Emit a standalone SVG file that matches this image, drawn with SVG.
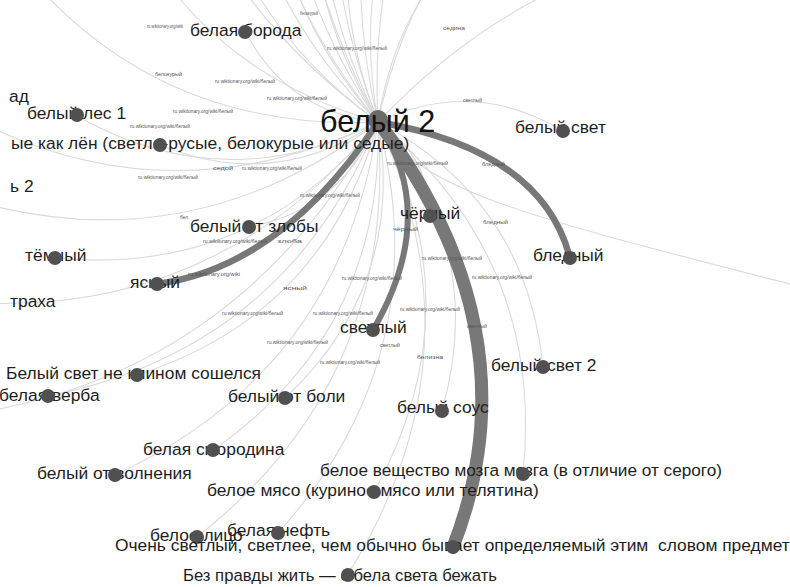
<svg xmlns="http://www.w3.org/2000/svg" width="790" height="587" viewBox="0 0 790 587">
  <style>
    .thin { fill: none; stroke: #dadada; stroke-width: 1.1; }
    .thick { fill: none; stroke: #787878; stroke-linecap: round; }
    .lbl { font-family: "Liberation Sans", Arial, sans-serif; font-size: 17.4px; fill: #1e1e1e; }
    .hublbl { font-family: "Liberation Sans", Arial, sans-serif; font-size: 30.5px; fill: #111; }
    .tiny { font-family: "Liberation Sans", Arial, sans-serif; font-size: 4.5px; fill: #555; }
    .dot { fill: #505050; }
  </style>
  <rect width="790" height="587" fill="#ffffff"/>

  <!-- connectors: curved edges from the centre word -->
  <g id="edges">
    <!-- edges to nodes outside the frame -->
    <path class="thin" d="M378,122 Q231,-45 290,-260"/>
    <path class="thin" d="M378,122 Q255,-84 360,-300"/>
    <path class="thin" d="M378,122 Q295,-93 430,-280"/>
    <path class="thin" d="M378,122 Q339,-97 500,-250"/>
    <path class="thin" d="M378,122 Q404,-48 560,-120"/>
    <path class="thin" d="M378,122 Q189,-16 200,-250"/>
    <path class="thin" d="M378,122 Q166,61 100,-150"/>
    <path class="thin" d="M378,122 Q140,133 0,-60"/>
    <path class="thin" d="M378,122 Q153,229 -60,100"/>
    <path class="thin" d="M378,122 Q177,274 -60,190"/>
    <path class="thin" d="M378,122 Q207,329 -60,300"/>
    <path class="thin" d="M378,122 Q427,-112 650,-200"/>
    <path class="thin" d="M378,122 Q200,-54 250,-300"/>
    <path class="thin" d="M378,122 Q229,395 -80,420"/>
    <path class="thin" d="M378,122 Q213,-126 330,-400"/>
    <path class="thin" d="M378,122 Q248,-145 400,-400"/>
    <path class="thin" d="M378,122 Q137,-52 150,-350"/>
    <path class="thin" d="M378,122 Q188,-113 280,-400"/>
    <path class="thin" d="M378,122 Q260,-183 450,-450"/>
    <path class="thin" d="M378,122 Q211,-190 380,-500"/>
    <path class="thin" d="M378,122 Q308,-177 520,-400"/>
    <path class="thin" d="M378,122 Q362,-174 600,-350"/>
    <path class="thin" d="M378,122 Q593,-105 900,-50"/>
    <path class="thin" d="M378,122 C420,190 520,215 790,284"/>
    <!-- edges to visible nodes -->
    <path class="thin" d="M378,122 Q287,112 245,31"/>
    <path class="thin" d="M378,122 Q226,200 77,116"/>
    <path class="thin" d="M378,122 Q275,192 160,145"/>
    <path class="thin" d="M378,122 Q342,209 249,227"/>
    <path class="thin" d="M378,122 Q253,277 55,258"/>
    <path class="thin" d="M378,122 Q326,314 137,375"/>
    <path class="thin" d="M378,122 Q287,348 48,396"/>
    <path class="thin" d="M378,122 Q406,285 285,398"/>
    <path class="thin" d="M378,122 Q384,331 213,450"/>
    <path class="thin" d="M378,122 Q342,370 115,475"/>
    <path class="thin" d="M378,122 Q476,308 374,492"/>
    <path class="thin" d="M378,122 Q545,259 523,474"/>
    <path class="thin" d="M378,122 Q439,354 278,533"/>
    <path class="thin" d="M378,122 Q399,378 197,537"/>
    <path class="thin" d="M378,122 Q485,356 348,574"/>
    <path class="thin" d="M378,122 Q488,249 442,411"/>
    <path class="thin" d="M378,122 Q526,200 543,367"/>
    <path class="thin" d="M378,122 Q429,155 430,216"/>
    <path class="thin" d="M378,122 Q473,77 563,131"/>
    <!-- heavy edges -->
    <path class="thick" stroke-width="6.5" d="M378,122 Q282,267 157,284"/>
    <path class="thick" stroke-width="6" d="M378,122 Q440,215 373,330"/>
    <path class="thick" stroke-width="6.5" d="M378,122 Q542,150 570,258"/>
    <path class="thick" stroke-width="13" d="M380,124 Q536,334 453,547"/>
  </g>

  <!-- small edge captions -->
  <g id="edge-captions">
    <text class="tiny" x="147" y="28" textLength="36" lengthAdjust="spacingAndGlyphs">ru.wiktionary.org/wiki</text>
    <text class="tiny" x="300" y="15" textLength="18" lengthAdjust="spacingAndGlyphs">белокурый</text>
    <text class="tiny" x="443" y="30" textLength="22" lengthAdjust="spacingAndGlyphs">седина</text>
    <text class="tiny" x="327" y="50" textLength="60" lengthAdjust="spacingAndGlyphs">ru.wiktionary.org/wiki/белый</text>
    <text class="tiny" x="155" y="76" textLength="27" lengthAdjust="spacingAndGlyphs">белокурый</text>
    <text class="tiny" x="215" y="83" textLength="60" lengthAdjust="spacingAndGlyphs">ru.wiktionary.org/wiki/белый</text>
    <text class="tiny" x="267" y="100" textLength="60" lengthAdjust="spacingAndGlyphs">ru.wiktionary.org/wiki/белый</text>
    <text class="tiny" x="173" y="113" textLength="60" lengthAdjust="spacingAndGlyphs">ru.wiktionary.org/wiki/белый</text>
    <text class="tiny" x="130" y="128" textLength="60" lengthAdjust="spacingAndGlyphs">ru.wiktionary.org/wiki/белый</text>
    <text class="tiny" x="213" y="170" textLength="20" lengthAdjust="spacingAndGlyphs">седой</text>
    <text class="tiny" x="242" y="170" textLength="60" lengthAdjust="spacingAndGlyphs">ru.wiktionary.org/wiki/белый</text>
    <text class="tiny" x="138" y="179" textLength="60" lengthAdjust="spacingAndGlyphs">ru.wiktionary.org/wiki/белый</text>
    <text class="tiny" x="300" y="197" textLength="60" lengthAdjust="spacingAndGlyphs">ru.wiktionary.org/wiki/белый</text>
    <text class="tiny" x="463" y="102" textLength="19" lengthAdjust="spacingAndGlyphs">светлый</text>
    <text class="tiny" x="387" y="165" textLength="61" lengthAdjust="spacingAndGlyphs">ru.wiktionary.org/wiki/белый</text>
    <text class="tiny" x="482" y="166" textLength="23" lengthAdjust="spacingAndGlyphs">бледный</text>
    <text class="tiny" x="203" y="243" textLength="64" lengthAdjust="spacingAndGlyphs">ru.wiktionary.org/wiki/белый</text>
    <text class="tiny" x="277" y="243" textLength="25" lengthAdjust="spacingAndGlyphs">злоба</text>
    <text class="tiny" x="180" y="219" textLength="8" lengthAdjust="spacingAndGlyphs">бел</text>
    <text class="tiny" x="342" y="280" textLength="60" lengthAdjust="spacingAndGlyphs">ru.wiktionary.org/wiki/белый</text>
    <text class="tiny" x="188" y="276" textLength="52" lengthAdjust="spacingAndGlyphs">ru.wiktionary.org/wiki</text>
    <text class="tiny" x="283" y="290" textLength="24" lengthAdjust="spacingAndGlyphs">ясный</text>
    <text class="tiny" x="222" y="315" textLength="61" lengthAdjust="spacingAndGlyphs">ru.wiktionary.org/wiki/белый</text>
    <text class="tiny" x="313" y="315" textLength="60" lengthAdjust="spacingAndGlyphs">ru.wiktionary.org/wiki/белый</text>
    <text class="tiny" x="267" y="344" textLength="61" lengthAdjust="spacingAndGlyphs">ru.wiktionary.org/wiki/белый</text>
    <text class="tiny" x="320" y="364" textLength="60" lengthAdjust="spacingAndGlyphs">ru.wiktionary.org/wiki/белый</text>
    <text class="tiny" x="393" y="231" textLength="25" lengthAdjust="spacingAndGlyphs">чёрный</text>
    <text class="tiny" x="483" y="224" textLength="25" lengthAdjust="spacingAndGlyphs">бледный</text>
    <text class="tiny" x="422" y="260" textLength="60" lengthAdjust="spacingAndGlyphs">ru.wiktionary.org/wiki/белый</text>
    <text class="tiny" x="472" y="279" textLength="60" lengthAdjust="spacingAndGlyphs">ru.wiktionary.org/wiki/белый</text>
    <text class="tiny" x="400" y="311" textLength="60" lengthAdjust="spacingAndGlyphs">ru.wiktionary.org/wiki/белый</text>
    <text class="tiny" x="467" y="328" textLength="20" lengthAdjust="spacingAndGlyphs">светлый</text>
    <text class="tiny" x="380" y="347" textLength="20" lengthAdjust="spacingAndGlyphs">светлый</text>
    <text class="tiny" x="417" y="359" textLength="26" lengthAdjust="spacingAndGlyphs">белизна</text>
  </g>

  <!-- nodes -->
  <g id="n-hub"><circle cx="378" cy="120" r="10" fill="#6a6a6a"/><text class="hublbl" x="320" y="132">белый 2</text></g>
  <g id="n-boroda"><text class="lbl" x="190" y="36">белая борода</text><circle class="dot" cx="245" cy="32" r="7"/></g>
  <g id="n-ad"><text class="lbl" x="9" y="102">ад</text></g>
  <g id="n-les"><text class="lbl" x="27" y="119">белый лес 1</text><circle class="dot" cx="77" cy="115" r="7"/></g>
  <g id="n-len"><text class="lbl" x="11" y="149">ые как лён (светло-русые, белокурые или седые)</text><circle class="dot" cx="160" cy="145" r="7"/></g>
  <g id="n-2"><text class="lbl" x="10" y="192">ь 2</text></g>
  <g id="n-zloba"><text class="lbl" x="190" y="232">белый от злобы</text><circle class="dot" cx="249" cy="227" r="7"/></g>
  <g id="n-temny"><text class="lbl" x="25" y="261">тёмный</text><circle class="dot" cx="55" cy="258" r="7"/></g>
  <g id="n-yasny"><text class="lbl" x="130" y="288">ясный</text><circle class="dot" cx="157" cy="284" r="7"/></g>
  <g id="n-straha"><text class="lbl" x="10" y="307">траха</text></g>
  <g id="n-klin"><text class="lbl" x="6" y="379">Белый свет не клином сошелся</text><circle class="dot" cx="137" cy="375" r="7"/></g>
  <g id="n-verba"><text class="lbl" x="-1" y="401">белая верба</text><circle class="dot" cx="48" cy="396" r="7"/></g>
  <g id="n-boli"><text class="lbl" x="228" y="402">белый от боли</text><circle class="dot" cx="285" cy="398" r="7"/></g>
  <g id="n-smorodina"><text class="lbl" x="143" y="455">белая смородина</text><circle class="dot" cx="213" cy="450" r="7"/></g>
  <g id="n-volnenie"><text class="lbl" x="37" y="479">белый от волнения</text><circle class="dot" cx="115" cy="475" r="7"/></g>
  <g id="n-myaso"><text class="lbl" x="207" y="496">белое мясо (куриное мясо или телятина)</text><circle class="dot" cx="374" cy="492" r="7"/></g>
  <g id="n-veshchestvo"><text class="lbl" x="320" y="476" textLength="402" lengthAdjust="spacingAndGlyphs">белое вещество мозга мозга (в отличие от серого)</text><circle class="dot" cx="523" cy="474" r="7"/></g>
  <g id="n-litso"><text class="lbl" x="150" y="541">белое лицо</text><circle class="dot" cx="197" cy="537" r="7"/></g>
  <g id="n-neft"><text class="lbl" x="227" y="536">белая нефть</text><circle class="dot" cx="278" cy="533" r="7"/></g>
  <g id="n-ochen"><text class="lbl" x="115" y="551" xml:space="preserve">Очень светлый, светлее, чем обычно бывает определяемый этим  словом предмет</text><circle class="dot" cx="453" cy="547" r="7"/></g>
  <g id="n-pravda"><text class="lbl" x="183" y="581" textLength="314" lengthAdjust="spacingAndGlyphs">Без правды жить — с бела света бежать</text><circle class="dot" cx="348" cy="575" r="7"/></g>
  <g id="n-sous"><text class="lbl" x="397" y="413">белый соус</text><circle class="dot" cx="442" cy="411" r="7"/></g>
  <g id="n-svet2"><text class="lbl" x="491" y="371">белый свет 2</text><circle class="dot" cx="543" cy="367" r="7"/></g>
  <g id="n-svetly"><text class="lbl" x="340" y="333">светлый</text><circle class="dot" cx="373" cy="330" r="7"/></g>
  <g id="n-cherny"><text class="lbl" x="400" y="219">чёрный</text><circle class="dot" cx="430" cy="216" r="7"/></g>
  <g id="n-bledny"><text class="lbl" x="533" y="261">бледный</text><circle class="dot" cx="570" cy="258" r="7"/></g>
  <g id="n-svet"><text class="lbl" x="515" y="133">белый свет</text><circle class="dot" cx="563" cy="131" r="7"/></g>
</svg>
